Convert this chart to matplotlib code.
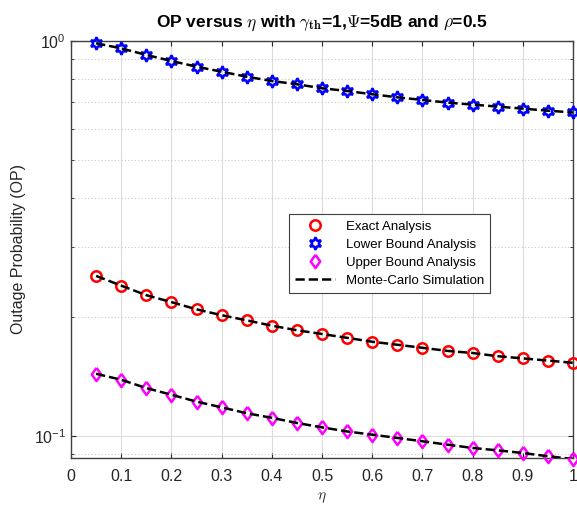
import numpy as np
import matplotlib
matplotlib.use('Agg')
import matplotlib.pyplot as plt
from matplotlib.ticker import LogLocator, NullFormatter

plt.rcParams['font.family'] = ['Liberation Sans', 'DejaVu Sans']
plt.rcParams['mathtext.fontset'] = 'cm'

eta = [0.05, 0.1, 0.15, 0.2, 0.25, 0.3, 0.35, 0.4, 0.45, 0.5,
       0.55, 0.6, 0.65, 0.7, 0.75, 0.8, 0.85, 0.9, 0.95, 1.0]
op_exact = [0.254, 0.240, 0.227, 0.218, 0.209, 0.202, 0.196, 0.190, 0.185, 0.181,
            0.177, 0.173, 0.170, 0.167, 0.164, 0.162, 0.159, 0.157, 0.155, 0.153]
op_lower = [0.987, 0.958, 0.922, 0.890, 0.861, 0.836, 0.812, 0.792, 0.777, 0.759,
            0.747, 0.733, 0.720, 0.709, 0.698, 0.690, 0.682, 0.674, 0.666, 0.659]
op_upper = [0.1435, 0.1386, 0.132, 0.127, 0.122, 0.118, 0.114, 0.111, 0.1077, 0.105,
            0.1025, 0.1006, 0.0987, 0.0968, 0.0949, 0.0931, 0.0918, 0.0904, 0.0887, 0.0873]
# simulation matches the analysis
sim_exact = op_exact
sim_lower = op_lower
sim_upper = op_upper

# matlab-like markers
hexagram = (6, 1, 0)
diamond = [(0, 1), (0.72, 0), (0, -1), (-0.72, 0), (0, 1)]

fig = plt.figure(figsize=(5.77, 5.07), dpi=100)
ax = fig.add_axes([71 / 577, 1 - 458 / 507, 502 / 577, 417 / 507])

ax.semilogy(eta, op_exact, 'o', color='#ff0000', mfc='none', mew=1.8, ms=7.5,
            label='Exact Analysis', clip_on=False, zorder=3)
ax.semilogy(eta, op_lower, ls='none', marker=hexagram, color='#0000ff', mfc='none',
            mew=1.8, ms=9, label='Lower Bound Analysis', clip_on=False, zorder=3)
ax.semilogy(eta, op_upper, ls='none', marker=diamond, color='#ff00ff', mfc='none',
            mew=1.8, ms=9.5, label='Upper Bound Analysis', clip_on=False, zorder=3)
ax.semilogy(eta, sim_exact, '--', color='k', lw=1.8, label='Monte-Carlo Simulation', zorder=4)
ax.semilogy(eta, sim_lower, '--', color='k', lw=1.8, zorder=4)
ax.semilogy(eta, sim_upper, '--', color='k', lw=1.8, zorder=4)

ax.set_xlim(0, 1)
ax.set_ylim(0.0878, 1)
ax.set_xticks(np.arange(0, 1.01, 0.1))
ax.set_xticklabels(['0', '0.1', '0.2', '0.3', '0.4', '0.5', '0.6', '0.7', '0.8', '0.9', '1'])
ax.yaxis.set_minor_locator(LogLocator(base=10, subs=np.arange(2, 10)))
ax.yaxis.set_minor_formatter(NullFormatter())

ax.grid(True, which='major', color='#dcdcdc', lw=0.8, ls='-')
ax.grid(True, which='minor', axis='y', color='#c8c8c8', lw=0.8, ls=(0, (1, 2)))
ax.set_axisbelow(True)

ax.tick_params(which='both', direction='in', top=True, right=True, labelsize=11.5,
               colors='#262626', labelcolor='#262626')
ax.tick_params(axis='x', pad=8)
ax.tick_params(which='minor', length=2)
for s in ax.spines.values():
    s.set_color('#404040')
    s.set_linewidth(1.0)

ax.set_xlabel(r'$\eta$', fontsize=11, color='#262626', labelpad=5)
ax.set_ylabel('Outage Probability (OP)', fontsize=11.5, color='#262626', labelpad=6)
ax.set_title(r'OP versus $\eta$ with $\gamma_{\mathbf{th}}$=1,$\Psi$=5dB and $\rho$=0.5',
             fontsize=12.5, fontweight='bold', pad=10)

leg = ax.legend(loc='upper left', bbox_to_anchor=(0.422, 0.60), fontsize=9.5,
                frameon=True, fancybox=False, edgecolor='#404040', framealpha=1,
                handlelength=3, borderpad=0.45, labelspacing=0.45)
leg.get_frame().set_linewidth(0.8)

fig.savefig('out.png', dpi=100)
